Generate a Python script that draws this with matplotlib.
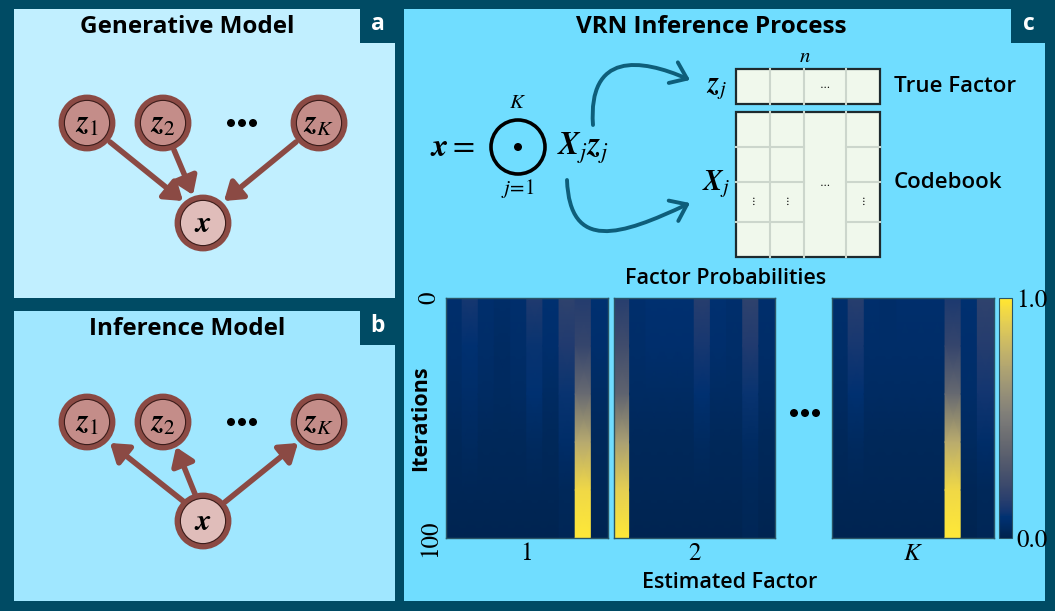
import numpy as np
import matplotlib.pyplot as plt
from matplotlib.patches import Circle, Rectangle, FancyArrowPatch
from matplotlib.path import Path
from matplotlib.cm import ScalarMappable
from matplotlib.colors import Normalize

plt.rcParams['mathtext.fontset'] = 'stix'
plt.rcParams['font.family'] = ['Open Sans', 'DejaVu Sans']

W, H = 1055, 611

# iteration knots (rows) and factor probabilities, one list per column (10 codebook entries)
iterations = [0, 20, 40, 60, 80, 100]
probs_1 = [
    [.07, .06, .05, .03, .02, .01],
    [.12, .08, .06, .04, .02, .01],
    [.07, .06, .05, .03, .02, .01],
    [.06, .05, .04, .03, .02, .01],
    [.07, .06, .05, .03, .02, .01],
    [.14, .10, .08, .04, .02, .01],
    [.08, .07, .05, .03, .02, .01],
    [.18, .14, .10, .06, .03, .02],
    [.15, .20, .41, .73, .94, 1.0],
    [.08, .07, .05, .03, .02, .01],
]
probs_2 = [
    [.16, .24, .37, .68, .90, 1.0],
    [.07, .06, .05, .03, .02, .01],
    [.08, .07, .05, .03, .02, .01],
    [.08, .07, .05, .03, .02, .01],
    [.08, .07, .05, .03, .02, .01],
    [.16, .12, .08, .04, .02, .01],
    [.08, .07, .05, .03, .02, .01],
    [.07, .06, .05, .03, .02, .01],
    [.18, .14, .10, .05, .03, .02],
    [.07, .06, .05, .03, .02, .01],
]
probs_k = [
    [.07, .06, .05, .03, .02, .01],
    [.16, .12, .08, .04, .02, .01],
    [.07, .06, .05, .03, .02, .01],
    [.06, .06, .05, .03, .02, .01],
    [.07, .06, .05, .03, .02, .01],
    [.07, .06, .05, .03, .02, .01],
    [.07, .06, .05, .03, .02, .01],
    [.13, .20, .40, .74, .94, 1.0],
    [.08, .07, .06, .04, .02, .01],
    [.18, .15, .11, .06, .03, .02],
]
factor_labels = ['1', '2', '$K$']

BORDER = '#004B64'
RING = '#8B4A44'
Z_FILL = '#C48D89'
X_FILL = '#E0BDBA'
TEAL = '#0E5E7A'
GRID = '#CCD6CC'
CELL = '#F0F8EC'

fig = plt.figure(figsize=(W / 100, H / 100), dpi=100, facecolor=BORDER)
ax = fig.add_axes([0, 0, 1, 1])
ax.set_xlim(0, W)
ax.set_ylim(H, 0)
ax.axis('off')


def px_axes(x0, y0, x1, y1):
    return fig.add_axes([x0 / W, 1 - y1 / H, (x1 - x0) / W, (y1 - y0) / H])


# panels
ax.add_patch(Rectangle((14, 9), 381, 289, fc='#C1EFFF', ec='none'))
ax.add_patch(Rectangle((14, 311), 381, 290, fc='#A0E7FF', ec='none'))
ax.add_patch(Rectangle((404, 9), 641, 592, fc='#70DDFF', ec='none'))
for (bx, by), lab in zip([(360, 9), (360, 311), (1011, 9)], 'abc'):
    ax.add_patch(Rectangle((bx, by), 35 if lab != 'c' else 34, 34, fc=BORDER, ec='none'))
    ax.text(bx + 17.5, by + 15, lab, color='white', fontsize=16.5, fontweight='bold',
            ha='center', va='center')

ax.text(187, 27, 'Generative Model', fontsize=17.5, fontweight='bold', ha='center', va='center')
ax.text(187, 329, 'Inference Model', fontsize=17.5, fontweight='bold', ha='center', va='center')
ax.text(711, 27, 'VRN Inference Process', fontsize=17.5, fontweight='bold', ha='center', va='center')


def node(x, y, label, fill):
    ax.add_patch(Circle((x, y), 25.5, fc=fill, ec=RING, lw=4.2, zorder=3))
    ax.add_patch(Circle((x, y), 22.6, fc='none', ec='#3A1C1A', lw=0.8, zorder=4))
    ax.text(x, y + 1, label, fontsize=22, ha='center', va='center', zorder=5)


def arrow(p0, p1):
    ax.add_patch(FancyArrowPatch(p0, p1, arrowstyle='-|>,head_length=0.8,head_width=0.55',
                                 mutation_scale=13, lw=4, color=RING,
                                 shrinkA=0, shrinkB=0, zorder=2))


def dots(xc, y):
    for dx in (-11, 0, 11):
        ax.add_patch(Circle((xc + dx, y), 4, fc='black', ec='none'))


z_labels = [r'$\mathbfit{z}_1$', r'$\mathbfit{z}_2$', r'$\mathbfit{z}_K$']
z_x = [87, 163, 319]

# generative model
for zx, lab in zip(z_x, z_labels):
    node(zx, 123, lab, Z_FILL)
node(203, 223, r'$\mathbfit{x}$', X_FILL)
dots(242, 123)
arrow((110, 142), (183, 201))
arrow((174, 150), (193, 195))
arrow((296, 142), (224, 201))

# inference model
for zx, lab in zip(z_x, z_labels):
    node(zx, 422, lab, Z_FILL)
node(203, 521, r'$\mathbfit{x}$', X_FILL)
dots(242, 422)
arrow((183, 501), (110, 443))
arrow((195, 494), (176, 447))
arrow((225, 502), (298, 443))

# equation
ax.text(452, 148, r'$\mathbfit{x}=$', fontsize=23, ha='center', va='center')
ax.add_patch(Circle((518, 147), 27, fc='none', ec='black', lw=2.6))
ax.add_patch(Circle((518, 147), 4, fc='black', ec='none'))
ax.text(518, 103, '$K$', fontsize=15, ha='center', va='center')
ax.text(518, 189, '$j\\!=\\!1$', fontsize=15, ha='center', va='center')
ax.text(583, 148, r'$\mathbfit{X}_j\mathbfit{z}_j$', fontsize=23, ha='center', va='center')

# curved arrows
for verts in ([(593, 125), (588, 52), (640, 58), (690, 80)],
              [(567, 180), (570, 252), (620, 236), (690, 203)]):
    p = Path(verts, [Path.MOVETO, Path.CURVE4, Path.CURVE4, Path.CURVE4])
    ax.add_patch(FancyArrowPatch(path=p, arrowstyle='->,head_length=0.6,head_width=0.45',
                                 mutation_scale=18, lw=2.8, color=TEAL))

# true factor / codebook
col_edges = [736, 770, 804, 846, 880]
ax.add_patch(Rectangle((736, 69), 144, 35, fc=CELL, ec='none'))
ax.add_patch(Rectangle((736, 112), 144, 145, fc=CELL, ec='none'))
for cx in col_edges[1:-1]:
    ax.plot([cx, cx], [69, 104], color=GRID, lw=1.5)
    ax.plot([cx, cx], [112, 257], color=GRID, lw=1.5)
for ry in (147, 182, 222):
    ax.plot([736, 804], [ry, ry], color=GRID, lw=1.5)
    ax.plot([846, 880], [ry, ry], color=GRID, lw=1.5)
ax.add_patch(Rectangle((736, 69), 144, 35, fc='none', ec='#1E2A2E', lw=1.6))
ax.add_patch(Rectangle((736, 112), 144, 145, fc='none', ec='#1E2A2E', lw=1.6))
ax.text(825, 86, r'$\cdots$', fontsize=8, ha='center', va='center')
ax.text(825, 184, r'$\cdots$', fontsize=8, ha='center', va='center')
for cx in (753, 787, 863):
    ax.text(cx, 201, r'$\vdots$', fontsize=8, ha='center', va='center')
ax.text(805, 57, '$n$', fontsize=15, ha='center', va='center')
ax.text(716, 87, r'$\mathbfit{z}_j$', fontsize=21, ha='center', va='center')
ax.text(716, 184, r'$\mathbfit{X}_j$', fontsize=21, ha='center', va='center')
ax.text(894, 86, 'True Factor', fontsize=16, fontweight='semibold', ha='left', va='center')
ax.text(894, 183, 'Codebook', fontsize=16, fontweight='semibold', ha='left', va='center')

# heatmaps
ax.text(726, 278, 'Factor Probabilities', fontsize=15.5, fontweight='semibold', ha='center', va='center')
ax.text(730, 582, 'Estimated Factor', fontsize=15.5, fontweight='semibold', ha='center', va='center')
ax.text(421, 418, 'Iterations', fontsize=15.5, fontweight='bold', rotation=90,
        ha='center', va='center')
dots(805, 413)

hm_left = [446, 613.5, 832]
for i, (probs, lab) in enumerate(zip([probs_1, probs_2, probs_k], factor_labels)):
    hx = px_axes(hm_left[i], 298, hm_left[i] + 161.5, 538)
    for c, col in enumerate(probs):
        hx.pcolormesh([c, c + 1], iterations, np.column_stack([col, col]),
                      shading='gouraud', cmap='cividis', vmin=0, vmax=1)
    hx.set_xlim(0, 10)
    hx.set_ylim(100, 0)
    hx.set_xticks([5])
    hx.set_xticklabels([lab], fontfamily='STIXGeneral', fontsize=18)
    hx.tick_params(length=0, pad=3)
    if i == 0:
        hx.set_yticks([0, 100])
        hx.set_yticklabels(['0', '100'], rotation=90, va='center',
                           fontfamily='STIXGeneral', fontsize=18)
    else:
        hx.set_yticks([])
    for s in hx.spines.values():
        s.set_edgecolor('#2A5566')
        s.set_linewidth(1)

cax = px_axes(999, 298, 1012, 538)
cb = fig.colorbar(ScalarMappable(norm=Normalize(0, 1), cmap='cividis'), cax=cax, ticks=[0, 1])
cb.ax.set_yticklabels(['0.0', '1.0'], fontfamily='STIXGeneral', fontsize=18)
cb.ax.tick_params(length=0, pad=3)
cb.outline.set_edgecolor('#2A5566')

fig.savefig('out.png', dpi=100, facecolor=BORDER)
